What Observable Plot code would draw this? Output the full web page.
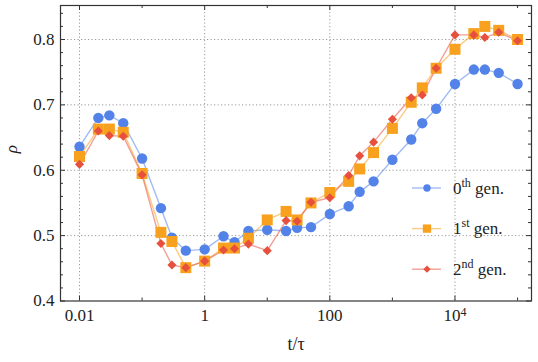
<!DOCTYPE html>
<html><head><meta charset="utf-8">
<script src="https://cdn.jsdelivr.net/npm/d3@7"></script>
<script src="https://cdn.jsdelivr.net/npm/@observablehq/plot@0.6"></script>
<style>body{margin:0;background:#fff;} #chart svg{display:block;}</style>
</head><body><div id="chart"></div>
<script>
// ---- data ----
const t = [0.01,0.02,0.03,0.05,0.1,0.2,0.3,0.5,1,2,3,5,10,20,30,50,100,200,300,500,1000,2000,3000,5000,1e4,2e4,3e4,5e4,1e5];
const gen0 = [0.636,0.680,0.684,0.672,0.618,0.542,0.497,0.477,0.479,0.499,0.490,0.507,0.509,0.507,0.512,0.513,0.533,0.545,0.567,0.583,0.616,0.647,0.672,0.694,0.732,0.754,0.754,0.749,0.732];
const gen1 = [0.621,0.663,0.663,0.658,0.595,0.505,0.491,0.451,0.461,0.481,0.481,0.496,0.524,0.537,0.524,0.550,0.566,0.583,0.602,0.627,0.664,0.704,0.726,0.756,0.785,0.809,0.820,0.814,0.800];
const gen2 = [0.609,0.660,0.653,0.652,0.593,0.488,0.455,0.451,0.461,0.478,0.480,0.487,0.477,0.523,0.522,0.551,0.558,0.592,0.622,0.643,0.678,0.711,0.715,0.756,0.807,0.807,0.803,0.811,0.798];
const seriesBase = ["0","1","2"];
const seriesSup = ["th","st","nd"];
const seriesTail = " gen.";
const xMajorTicks = [0.01,1,100,1e4];
const xTickLabels = ["0.01","1","100","10^4"];
const xMinorTicks = [0.1,10,1000,1e5];
const yMajorTicks = [0.4,0.5,0.6,0.7,0.8];
const yTickLabels = ["0.4","0.5","0.6","0.7","0.8"];
const yMinorTicks = [0.42,0.44,0.46,0.48,0.52,0.54,0.56,0.58,0.62,0.64,0.66,0.68,0.72,0.74,0.76,0.78,0.82,0.84];
const xLabel = "t/τ";
const yLabel = "ρ";

// ---- styling ----
const colors = ["#5383e8","#f7a11e","#e6503c"];
const symbols = ["circle","square","diamond2"];
const radii = [5.2,6.2,4.1];
const W = 538, H = 362, mL = 60, mR = 7, mT = 5, mB = 61.5;
const innerW = W - mL - mR, innerH = H - mT - mB;
const fontFam = "'Liberation Serif', 'DejaVu Serif', serif";

const series = [gen0, gen1, gen2];
const rows = series.map((vals, g) => t.map((x, i) => ({t: x, rho: vals[i], g})));

const gridStyle = {stroke: "#9a9a9a", strokeOpacity: 1, strokeWidth: 1, strokeDasharray: "1.2,2.3"};
const tickStyle = {stroke: "#333", strokeWidth: 1};

const plot = Plot.plot({
  width: W, height: H,
  marginLeft: mL, marginRight: mR, marginTop: mT, marginBottom: mB,
  style: {fontFamily: fontFam, fontSize: "17px", color: "#222", background: "#fff"},
  x: {type: "log", domain: [0.00497, 1.67e5]},
  y: {domain: [0.4, 0.852]},
  marks: [
    Plot.gridX(xMajorTicks, gridStyle),
    Plot.gridY(yMajorTicks.slice(1), gridStyle),
    ...rows.map((r, g) => Plot.line(r, {x: "t", y: "rho", stroke: colors[g], strokeOpacity: 0.55, strokeWidth: 1.4})),
    ...rows.map((r, g) => Plot.dot(r, {x: "t", y: "rho", fill: colors[g], symbol: symbols[g], r: radii[g], stroke: "none"})),
    // inward ticks: bottom / top
    Plot.tickX(xMajorTicks, {x: d => d, insetTop: innerH - 5, ...tickStyle}),
    Plot.tickX(xMajorTicks, {x: d => d, insetBottom: innerH - 5, ...tickStyle}),
    Plot.tickX(xMinorTicks, {x: d => d, insetTop: innerH - 3, ...tickStyle}),
    Plot.tickX(xMinorTicks, {x: d => d, insetBottom: innerH - 3, ...tickStyle}),
    // inward ticks: left / right
    Plot.tickY(yMajorTicks, {y: d => d, insetRight: innerW - 5, ...tickStyle}),
    Plot.tickY(yMajorTicks, {y: d => d, insetLeft: innerW - 5, ...tickStyle}),
    Plot.tickY(yMinorTicks, {y: d => d, insetRight: innerW - 3, ...tickStyle}),
    Plot.tickY(yMinorTicks, {y: d => d, insetLeft: innerW - 3, ...tickStyle}),
    Plot.frame({stroke: "#333", strokeWidth: 1.2}),
    Plot.axisX({ticks: xMajorTicks, tickSize: 0, tickPadding: 8, tickFormat: d => xTickLabels[xMajorTicks.indexOf(d)], label: null, fontSize: 17, fill: "#222"}),
    Plot.axisY({ticks: yMajorTicks, tickSize: 0, tickPadding: 6, tickFormat: d => yTickLabels[yMajorTicks.indexOf(d)], label: null, fontSize: 17, fill: "#222"}),
    Plot.text([xLabel], {text: d => d, frameAnchor: "bottom", dy: 49, fontSize: 18, fill: "#222"}),
    Plot.text([yLabel], {text: d => d, frameAnchor: "left", dx: -49, rotate: -90, fontSize: 17, fontStyle: "italic", fill: "#222"})
  ]
});
document.getElementById("chart").appendChild(plot);

// superscript tick labels like 10^4
const svg = d3.select(plot);
svg.selectAll("text").each(function() {
  const s = this.textContent;
  const m = /^(\d+)\^(\d+)$/.exec(s);
  if (m) {
    const el = d3.select(this);
    el.text(null);
    el.append("tspan").text(m[1]);
    el.append("tspan").attr("font-size", 12).attr("dy", "-0.45em").text(m[2]);
  }
});

// legend (inside the plot area, right side)
const lg = svg.append("g")
  .attr("font-family", fontFam)
  .attr("font-size", 17).attr("fill", "#222").attr("text-anchor", "start");
const legendR = [3.7, 4.7, 3.3];
seriesBase.forEach((b, i) => {
  const y = 188 + i * 40.6;
  lg.append("line").attr("x1", 412).attr("x2", 441).attr("y1", y).attr("y2", y)
    .attr("stroke", colors[i]).attr("stroke-opacity", 0.55).attr("stroke-width", 1.4);
  const symType = [d3.symbolCircle, d3.symbolSquare, d3.symbolDiamond2][i];
  lg.append("path").attr("transform", `translate(427,${y})`)
    .attr("d", d3.symbol(symType, Math.PI * legendR[i] * legendR[i])())
    .attr("fill", colors[i]);
  const tx = lg.append("text").attr("x", 453).attr("y", y + 5.5).attr("text-anchor", "start");
  tx.append("tspan").text(b);
  tx.append("tspan").attr("font-size", 12).attr("dy", -7).text(seriesSup[i]);
  tx.append("tspan").attr("dy", 7).text(seriesTail);
});
</script>
</body></html>
